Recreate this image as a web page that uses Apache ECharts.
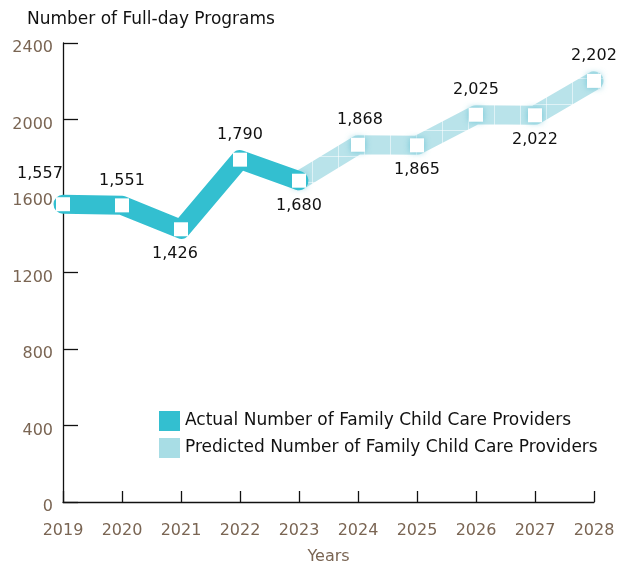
<!DOCTYPE html>
<html>
<head>
<meta charset="utf-8">
<script src="https://cdn.jsdelivr.net/npm/echarts@6/dist/echarts.min.js"></script>
<style>
  html, body { margin: 0; padding: 0; background: #fff; }
  #chart { width: 634px; height: 565px; }
</style>
</head>
<body>
<div id="chart"></div>
<script>
const years = ['2019', '2020', '2021', '2022', '2023', '2024', '2025', '2026', '2027', '2028']
const actualValues = [1557, 1551, 1426, 1790, 1680, null, null, null, null, null]
const predictedValues = [null, null, null, null, 1680, 1868, 1865, 2025, 2022, 2202]
const yTicks = [0, 400, 800, 1200, 1600, 2000, 2400]

// where each value label sits relative to its point
const labelPos = ['top', 'top', 'bottom', 'top', 'bottom', 'top', 'bottom', 'top', 'bottom', 'top']
const labelOffset = [[-23, -5], [0, 0], [-6, 0], [0, 0], [0, 0], [2, 0], [0, 0], [0, 0], [0, 0], [0, 0]]

const FONT = '"DejaVu Sans", "Noto Sans", sans-serif'
const ACTUAL = '#33bfd0'
const PREDICTED = '#a8dde5'

// light band with faint white grid, like the printed texture
const makePattern = () => {
  const c = document.createElement('canvas')
  c.width = 26
  c.height = 26
  const ctx = c.getContext('2d')
  ctx.fillStyle = '#b9e3ea'
  ctx.fillRect(0, 0, 26, 26)
  ctx.strokeStyle = 'rgba(255,255,255,0.55)'
  ctx.lineWidth = 1
  ctx.beginPath()
  ctx.moveTo(0.5, 0); ctx.lineTo(0.5, 26)
  ctx.moveTo(0, 0.5); ctx.lineTo(26, 0.5)
  ctx.stroke()
  return c
}

const buildData = (values, labelFrom, labelTo) =>
  values.map((v, i) => {
    if (v == null) return '-'
    const show = i >= labelFrom && i <= labelTo
    return {
      value: v,
      label: { show, position: labelPos[i], offset: labelOffset[i] },
    }
  })

const labelStyle = {
  color: '#111',
  fontSize: 16,
  fontFamily: FONT,
  distance: 10,
  formatter: (p) => p.value.toLocaleString('en-US'),
}

const myChart = echarts.init(document.getElementById('chart'))

myChart.setOption({
  animation: false,
  backgroundColor: '#fff',
  title: {
    text: 'Number of Full-day Programs',
    left: 22,
    top: 6,
    textStyle: { color: '#111', fontSize: 17, fontWeight: 'normal', fontFamily: FONT },
  },
  legend: {
    orient: 'vertical',
    left: 154,
    top: 406,
    itemWidth: 21,
    itemHeight: 20,
    itemGap: 7,
    icon: 'rect',
    selectedMode: false,
    textStyle: { color: '#111', fontSize: 17, fontFamily: FONT },
    data: [
      { name: 'Actual Number of Family Child Care Providers', itemStyle: { color: ACTUAL, borderWidth: 0 } },
      { name: 'Predicted Number of Family Child Care Providers', itemStyle: { color: PREDICTED, borderWidth: 0 } },
    ],
  },
  grid: {
    left: 63,
    right: 40,
    top: 43,
    bottom: 63,
    containLabel: false,
    outerBoundsMode: 'none',
  },
  xAxis: {
    type: 'category',
    data: years,
    boundaryGap: false,
    name: 'Years',
    nameLocation: 'middle',
    nameGap: 47,
    nameTextStyle: { color: '#7a6553', fontSize: 16, fontFamily: FONT },
    axisLine: { lineStyle: { color: '#111', width: 1.3 } },
    axisTick: { inside: true, length: 11, lineStyle: { color: '#111', width: 1.3 } },
    axisLabel: { color: '#7a6553', fontSize: 16, fontFamily: FONT, margin: 21 },
    splitLine: { show: false },
  },
  yAxis: {
    type: 'value',
    min: yTicks[0],
    max: yTicks[yTicks.length - 1],
    interval: yTicks[1] - yTicks[0],
    axisLine: { show: true, lineStyle: { color: '#111', width: 1.3 } },
    axisTick: { show: true, inside: true, length: 15, lineStyle: { color: '#111', width: 1.3 } },
    axisLabel: {
      color: '#7a6553',
      fontSize: 16,
      fontFamily: FONT,
      margin: 10,
      verticalAlign: 'top',
      lineHeight: 16,
      padding: [-3, 0, 0, 0],
      formatter: (v) => String(v),
    },
    splitLine: { show: false },
  },
  series: [
    {
      name: 'Predicted Number of Family Child Care Providers',
      type: 'line',
      data: buildData(predictedValues, 5, 9),
      z: 2,
      symbol: 'rect',
      symbolSize: 14,
      itemStyle: {
        color: '#fff',
        borderWidth: 0,
        shadowBlur: 6,
        shadowColor: 'rgba(80, 185, 205, 0.7)',
      },
      lineStyle: {
        width: 19,
        cap: 'round',
        join: 'round',
        color: { image: makePattern(), repeat: 'repeat' },
      },
      label: labelStyle,
      emphasis: { disabled: true },
    },
    {
      name: 'Actual Number of Family Child Care Providers',
      type: 'line',
      data: buildData(actualValues, 0, 4),
      z: 3,
      symbol: 'rect',
      symbolSize: 14,
      itemStyle: { color: '#fff', borderWidth: 0 },
      lineStyle: { width: 19, cap: 'round', join: 'round', color: ACTUAL },
      label: labelStyle,
      emphasis: { disabled: true },
    },
  ],
})

window.addEventListener('resize', () => {
  myChart.resize()
})
</script>
</body>
</html>
